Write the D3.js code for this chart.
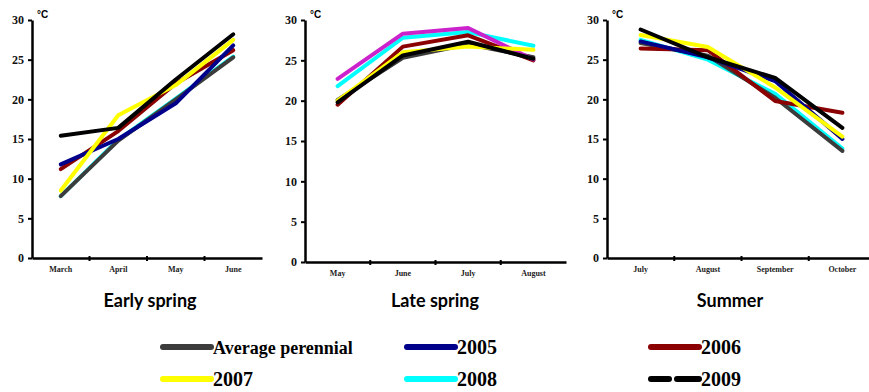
<!DOCTYPE html>
<html>
<head>
<meta charset="utf-8">
<script src="https://cdn.jsdelivr.net/npm/d3@7"></script>
<style>
  body { margin: 0; background: #fff; }
  svg { display: block; }
</style>
</head>
<body>
<svg id="chart" width="869" height="392"></svg>
<script>
// series, in legend order
const seriesNames = ["Average perennial", "2005", "2006", "2007", "2008", "2009"];
const seriesColors = ["#3c3c3c", "#00008b", "#8b0000", "#ffff00", "#00ffff", "#000000"];
// drawing order (last on top)
const drawOrder = [4, 0, 2, 1, 3, 5];

const yTicks = [0, 5, 10, 15, 20, 25, 30];

const earlyMonths = ["March", "April", "May", "June"];
const lateMonths = ["May", "June", "July", "August"];
const summerMonths = ["July", "August", "September", "October"];

// values (°C) per series, same order as seriesNames
const earlySpringValues = [
    [7.8, 14.8, 20.0, 25.3],
    [11.8, 15.0, 19.5, 26.8],
    [11.2, 16.0, 22.0, 26.2],
    [8.5, 18.0, 21.8, 27.5],
    [7.8, 14.9, 20.1, 25.4],
    [15.4, 16.4, 22.5, 28.2]
];
const lateSpringValues = [
    [20.1, 25.3, 27.0, 25.4],
    [22.7, 28.3, 29.0, 25.1],
    [19.5, 26.7, 28.1, 25.0],
    [20.0, 26.0, 26.7, 26.3],
    [21.8, 27.8, 28.5, 26.8],
    [19.8, 25.6, 27.3, 25.2]
];
const summerValues = [
    [27.1, 25.5, 20.2, 13.5],
    [27.3, 25.3, 22.3, 15.0],
    [26.4, 26.2, 19.8, 18.3],
    [28.1, 26.6, 21.5, 15.3],
    [27.5, 25.0, 20.7, 13.8],
    [28.8, 25.3, 22.7, 16.4]
];

const panels = [
    { title: "Early spring", months: earlyMonths, values: earlySpringValues,
      left: 32, right: 262, top: 20, bottom: 258, titleX: 150, colors: {} },
    { title: "Late spring", months: lateMonths, values: lateSpringValues,
      left: 305, right: 566, top: 20, bottom: 262, titleX: 435, colors: { 1: "#cc22cc" } },
    { title: "Summer", months: summerMonths, values: summerValues,
      left: 607, right: 876, top: 20, bottom: 258, titleX: 730, colors: {} }
];

const svg = d3.select("#chart");

panels.forEach(p => {
    const x = d3.scaleBand().domain(p.months).range([p.left, p.right]).padding(0);
    const y = d3.scaleLinear().domain([0, 30]).range([p.bottom, p.top]);

    const g = svg.append("g");

    // lines
    const line = d3.line()
        .x((d, i) => x(p.months[i]) + x.bandwidth() / 2)
        .y(d => y(d));

    drawOrder.forEach(s => {
        g.append("path")
            .datum(p.values[s])
            .attr("d", line)
            .attr("fill", "none")
            .attr("stroke", p.colors[s] || seriesColors[s])
            .attr("stroke-width", 4)
            .attr("stroke-linejoin", "round")
            .attr("stroke-linecap", "round");
    });

    // Y axis
    const yAxis = g.append("g")
        .attr("transform", `translate(${p.left},0)`)
        .call(d3.axisLeft(y).tickValues(yTicks).tickSize(4).tickSizeOuter(0).tickPadding(4));
    yAxis.select(".domain").attr("stroke", "#000").attr("stroke-width", 2.5);
    yAxis.selectAll(".tick line").attr("stroke", "#000").attr("stroke-width", 2);
    yAxis.selectAll(".tick text")
        .style("font-family", "'Liberation Serif', serif")
        .style("font-weight", "bold")
        .style("font-size", "12px")
        .attr("fill", "#111");

    // X axis (labels at band centers, ticks at band edges)
    const xAxis = g.append("g")
        .attr("transform", `translate(0,${p.bottom})`)
        .call(d3.axisBottom(x).tickSize(0).tickSizeOuter(0).tickPadding(8));
    xAxis.select(".domain").attr("stroke", "#000").attr("stroke-width", 2.5);
    xAxis.selectAll(".tick text")
        .style("font-family", "'Liberation Serif', serif")
        .style("font-weight", "bold")
        .style("font-size", "8px")
        .attr("fill", "#222");

    g.selectAll(".band-tick")
        .data(p.months.slice(1))
        .enter()
        .append("line")
        .attr("x1", d => x(d))
        .attr("x2", d => x(d))
        .attr("y1", p.bottom - 2)
        .attr("y2", p.bottom + 3)
        .attr("stroke", "#000")
        .attr("stroke-width", 2);

    // unit
    g.append("text")
        .attr("x", p.left + 5)
        .attr("y", p.top - 2)
        .text("°C")
        .style("font-family", "'Liberation Sans', sans-serif")
        .style("font-weight", "bold")
        .style("font-size", "10px");

    // panel title
    g.append("text")
        .attr("x", p.titleX)
        .attr("y", 307)
        .attr("text-anchor", "middle")
        .text(p.title)
        .style("font-family", "Lato, sans-serif")
        .style("font-weight", "bold")
        .style("font-size", "18px");
});

// Legend
const legendPos = [
    { x: 163, y: 347 }, { x: 407, y: 347 }, { x: 651, y: 347 },
    { x: 163, y: 379 }, { x: 407, y: 379 }, { x: 651, y: 379 }
];

const legend = svg.append("g");
const items = legend.selectAll("g")
    .data(seriesNames)
    .enter()
    .append("g")
    .attr("transform", (d, i) => `translate(${legendPos[i].x},${legendPos[i].y})`);

items.append("line")
    .attr("x1", 0)
    .attr("x2", 48)
    .attr("y1", 0)
    .attr("y2", 0)
    .attr("stroke", (d, i) => seriesColors[i])
    .attr("stroke-width", 6)
    .attr("stroke-linecap", "round")
    .attr("stroke-dasharray", (d, i) => i === 5 ? "18,8,24" : null);

items.append("text")
    .attr("x", 50)
    .attr("y", 7)
    .text(d => d)
    .style("font-family", "'Liberation Serif', serif")
    .style("font-weight", "bold")
    .style("font-size", (d, i) => i === 0 ? "18px" : "20px");
</script>
</body>
</html>
